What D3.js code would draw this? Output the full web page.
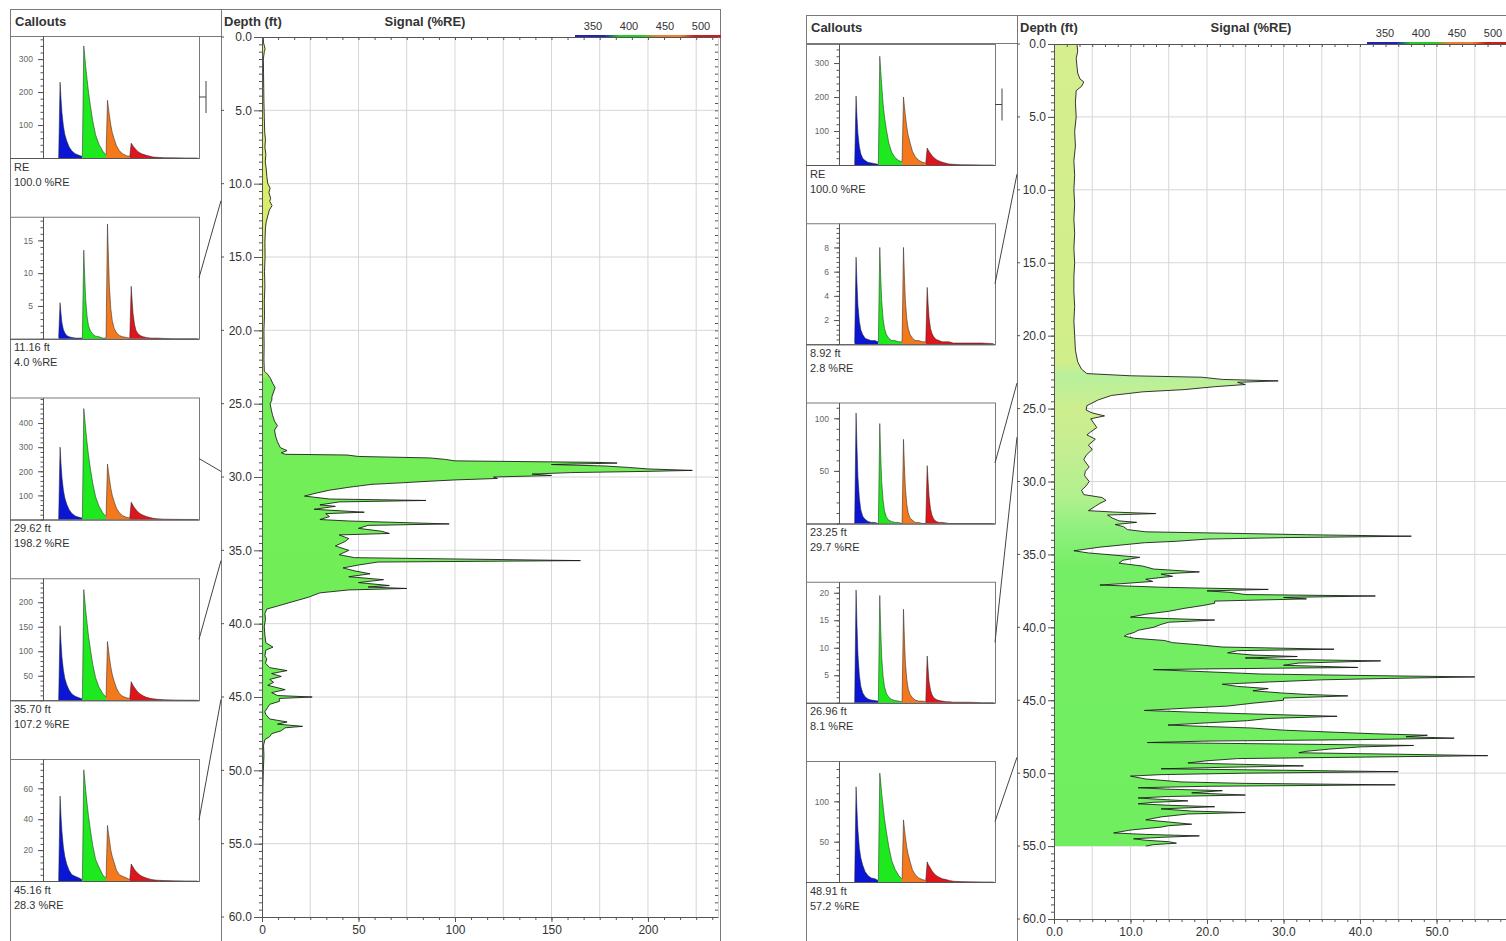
<!DOCTYPE html>
<html>
<head>
<meta charset="utf-8">
<script src="https://cdn.jsdelivr.net/npm/d3@7"></script>
<style>
  body { margin: 0; background: #fff; }
  svg { display: block; font-family: "Liberation Sans", Arial, sans-serif; }
</style>
</head>
<body>
<svg id="chart" width="1506" height="941"></svg>
<script>
// ---- data ----
const depthTickValues = [0, 5, 10, 15, 20, 25, 30, 35, 40, 45, 50, 55, 60];
const leftSignalTicks = [0, 50, 100, 150, 200];
const rightSignalTicks = [0, 10, 20, 30, 40, 50];
const bandLabels = ['350', '400', '450', '500'];

// depth (ft), signal (%RE)
const leftProfile = [
  [0.0, 0.6], [0.4, 0.8], [0.8, 1.6], [1.0, 1.2], [1.5, 0.7], [2.5, 0.8], [3.5, 0.9], [4.5, 1.0],
  [5.5, 1.2], [6.5, 1.4], [7.0, 1.8], [7.5, 1.5], [8.0, 2.0], [8.5, 1.7], [9.0, 2.2], [9.5, 2.5],
  [10.0, 3.0], [10.3, 4.2], [10.6, 3.6], [11.0, 4.5], [11.2, 4.0], [11.5, 5.2], [11.8, 3.8], [12.2, 3.0],
  [12.6, 2.2], [13.0, 1.8], [14.0, 1.5], [15.0, 1.6], [16.0, 1.3], [17.0, 1.5], [18.0, 1.2], [19.0, 1.3],
  [20.0, 1.0], [21.0, 1.1], [22.0, 1.0], [22.8, 1.2], [23.0, 3.0], [23.3, 4.5], [23.6, 5.5], [23.9, 6.8],
  [24.2, 6.0], [24.5, 5.2], [24.8, 5.0], [25.0, 4.2], [25.4, 4.8], [25.8, 5.5], [26.2, 6.5], [26.5, 8.0],
  [26.8, 6.5], [27.2, 7.0], [27.6, 8.0], [28.0, 9.5], [28.2, 13.0], [28.35, 10.0], [28.45, 12.0], [28.5, 44],
  [28.6, 50], [28.7, 87], [28.8, 95], [28.9, 100], [29.0, 173], [29.05, 184], [29.15, 150], [29.25, 178],
  [29.35, 190], [29.45, 200], [29.55, 223], [29.62, 198], [29.7, 160], [29.8, 140], [29.9, 150], [30.0, 120],
  [30.1, 122], [30.2, 100], [30.3, 85], [30.4, 72], [30.5, 57], [30.7, 45], [30.9, 35], [31.1, 28],
  [31.3, 22], [31.5, 35], [31.6, 85], [31.7, 40], [31.9, 30], [32.0, 38], [32.2, 27], [32.4, 53],
  [32.5, 33], [32.7, 35], [32.9, 30], [33.0, 45], [33.2, 97], [33.3, 55], [33.5, 50], [33.7, 62],
  [33.85, 66], [33.95, 40], [34.2, 45], [34.4, 43], [34.7, 38], [35.0, 45], [35.3, 40], [35.5, 48],
  [35.7, 165], [35.8, 60], [36.0, 50], [36.2, 42], [36.4, 48], [36.6, 56], [36.8, 45], [37.0, 63],
  [37.2, 50], [37.4, 66], [37.5, 55], [37.6, 75], [37.7, 45], [37.9, 30], [38.2, 24], [38.5, 16],
  [38.8, 8], [39.0, 2.5], [39.3, 1.5], [39.7, 1.8], [40.2, 1.2], [40.8, 1.5], [41.3, 2.0], [41.6, 5.7],
  [41.8, 2.0], [42.2, 1.5], [42.4, 2.5], [42.7, 1.8], [43.0, 4.0], [43.2, 13.0], [43.4, 5.0], [43.6, 10.0],
  [43.8, 4.0], [44.0, 6.0], [44.2, 3.0], [44.5, 12.0], [44.7, 5.0], [44.9, 8.0], [45.0, 26.0], [45.1, 9.0],
  [45.3, 9.0], [45.5, 4.0], [45.7, 3.0], [46.0, 1.5], [46.2, 2.0], [46.5, 4.0], [46.7, 13.0], [46.85, 8.0],
  [47.0, 21.0], [47.1, 12.0], [47.3, 10.0], [47.5, 5.0], [47.7, 4.0], [47.9, 1.5], [48.3, 0.8], [49.0, 1.0],
  [50.0, 0.7], [51.0, 0.5], [52.0, 0.4], [53.0, 0.4], [54.0, 0.3], [55.0, 0.3], [55.5, 0.2]
];

const rightProfile = [
  [0.0, 3.0], [0.5, 3.1], [1.0, 2.9], [1.5, 3.0], [2.0, 3.1], [2.4, 3.4], [2.6, 3.9], [2.9, 3.6],
  [3.2, 2.9], [4.0, 2.8], [5.0, 2.9], [6.0, 2.7], [7.0, 2.8], [8.0, 2.6], [9.0, 2.7], [10.0, 2.6],
  [11.0, 2.7], [12.0, 2.6], [13.0, 2.7], [14.0, 2.6], [15.0, 2.7], [16.0, 2.6], [17.0, 2.6], [18.0, 2.7],
  [19.0, 2.6], [20.0, 2.7], [21.0, 2.8], [21.8, 3.1], [22.3, 3.6], [22.6, 4.3], [22.75, 10.0], [22.85, 19.3],
  [23.0, 22], [23.1, 29.3], [23.2, 24], [23.35, 25], [23.5, 21], [23.7, 17], [23.85, 11.6], [24.1, 7.5],
  [24.4, 5.8], [24.8, 4.3], [25.1, 4.2], [25.3, 5.0], [25.5, 6.6], [25.7, 4.8], [26.0, 5.2], [26.3, 5.6],
  [26.6, 4.8], [26.8, 4.3], [27.1, 5.4], [27.5, 4.5], [27.8, 5.0], [28.2, 4.2], [28.5, 3.9], [28.8, 4.3],
  [29.0, 4.6], [29.3, 4.1], [29.6, 4.0], [30.0, 4.6], [30.3, 4.2], [30.6, 3.6], [30.9, 3.9], [31.1, 6.3],
  [31.3, 6.8], [31.5, 6.0], [31.7, 5.4], [32.0, 4.5], [32.1, 8.0], [32.2, 13.3], [32.3, 7.0], [32.5, 7.6],
  [32.7, 8.5], [32.8, 10.8], [32.95, 8.0], [33.1, 9.1], [33.3, 9.6], [33.45, 12.0], [33.55, 23.0], [33.65, 33.0],
  [33.75, 46.7], [33.85, 30.0], [33.95, 20.0], [34.1, 16.0], [34.2, 11.8], [34.5, 6.0], [34.75, 2.6], [34.9, 4.5],
  [35.0, 6.8], [35.2, 11.2], [35.4, 9.0], [35.6, 8.5], [35.8, 11.6], [36.0, 13.0], [36.2, 19.0], [36.35, 14.0],
  [36.5, 15.5], [36.7, 12.0], [36.85, 12.9], [37.0, 9.0], [37.1, 6.0], [37.25, 14.0], [37.4, 28.0], [37.5, 20.0],
  [37.6, 23.0], [37.75, 25.0], [37.85, 42.0], [37.95, 30.0], [38.05, 33.0], [38.2, 21.0], [38.35, 21.0], [38.5, 19.5],
  [38.7, 17.0], [38.9, 15.0], [39.1, 12.0], [39.3, 10.0], [39.4, 15.0], [39.5, 21.0], [39.65, 15.0], [39.8, 14.0],
  [40.0, 13.0], [40.2, 11.0], [40.35, 10.5], [40.5, 9.5], [40.6, 9.2], [40.75, 10.5], [40.9, 14.4], [41.05, 15.5],
  [41.2, 19.0], [41.35, 22.0], [41.5, 36.6], [41.6, 24.0], [41.75, 22.7], [41.9, 26.0], [42.0, 31.8], [42.1, 25.0],
  [42.2, 30.0], [42.3, 42.7], [42.45, 32.0], [42.6, 30.0], [42.75, 39.7], [42.85, 20.0], [42.9, 13.0], [43.05, 20.0],
  [43.2, 27.0], [43.3, 40.0], [43.4, 55.0], [43.5, 44.0], [43.6, 35.0], [43.75, 28.0], [43.9, 22.0], [44.05, 24.0],
  [44.2, 28.0], [44.35, 26.0], [44.5, 29.7], [44.6, 33.0], [44.7, 38.4], [44.85, 30.0], [45.0, 30.0], [45.2, 26.0],
  [45.4, 22.7], [45.55, 17.0], [45.7, 11.8], [45.85, 20.0], [46.0, 30.0], [46.1, 37.0], [46.25, 28.0], [46.4, 25.3],
  [46.55, 20.0], [46.7, 14.9], [46.8, 20.0], [46.9, 25.7], [47.05, 30.0], [47.2, 37.0], [47.3, 42.0], [47.4, 48.8],
  [47.5, 46.0], [47.6, 52.3], [47.7, 40.0], [47.8, 20.0], [47.9, 12.2], [48.0, 30.0], [48.1, 47.0], [48.2, 40.0],
  [48.35, 36.0], [48.5, 33.0], [48.6, 32.0], [48.7, 45.0], [48.8, 56.7], [48.9, 40.0], [49.0, 24.0], [49.15, 20.0],
  [49.3, 17.5], [49.4, 25.0], [49.5, 32.6], [49.6, 22.0], [49.7, 14.0], [49.8, 30.0], [49.9, 45.0], [50.0, 25.0],
  [50.1, 14.0], [50.2, 10.0], [50.4, 12.0], [50.6, 16.6], [50.7, 25.0], [50.8, 44.6], [50.9, 20.0], [51.0, 11.0],
  [51.1, 15.0], [51.2, 22.0], [51.35, 18.0], [51.5, 25.0], [51.6, 15.0], [51.7, 11.0], [51.8, 14.0], [51.9, 17.5],
  [52.0, 13.0], [52.1, 11.0], [52.2, 15.0], [52.3, 21.0], [52.45, 14.0], [52.6, 18.0], [52.7, 25.0], [52.8, 17.5],
  [53.0, 14.0], [53.2, 12.0], [53.35, 15.0], [53.5, 18.0], [53.6, 15.0], [53.7, 14.0], [53.9, 10.0], [54.1, 7.8],
  [54.2, 12.0], [54.3, 19.0], [54.4, 14.0], [54.5, 10.4], [54.6, 12.0], [54.7, 15.0], [54.8, 16.0], [54.9, 13.0],
  [55.0, 12.0]
];

// callout spectra: wavelengths (nm) shared by all spectra
const SPEC_WL = [
  347, 350, 352, 354, 357, 360, 364, 369, 375, 382, 390, 396,
  397, 400, 402, 404, 407, 410, 414, 419, 425, 432, 440, 446,
  447, 450, 452, 454, 457, 460, 464, 469, 475, 482, 490, 496,
  497, 500, 502, 504, 507, 510, 514, 519, 525, 532, 540, 546, 555, 570, 590, 615, 640
];
const bandEdges = [397, 447, 497];

const leftCalloutDepth = [null, 11.16, 29.62, 35.70, 45.16];
const leftCalloutLabel = ['RE', '11.16 ft', '29.62 ft', '35.70 ft', '45.16 ft'];
const leftCalloutSignal = ['100.0 %RE', '4.0 %RE', '198.2 %RE', '107.2 %RE', '28.3 %RE'];
const leftSpecMax = [370, 18.6, 506, 249, 79];
const leftSpecTicks = [[100, 200, 300], [5, 10, 15], [100, 200, 300, 400], [50, 100, 150, 200], [20, 40, 60]];
const leftSpectra = [
  [0, 230, 180, 138, 98, 72, 52, 34, 21, 13, 8, 5,
   5, 340, 310, 278, 238, 200, 158, 112, 70, 42, 21, 10,
   10, 175, 152, 130, 100, 78, 58, 37, 22, 13, 7, 5,
   5, 45, 41, 36, 31, 26, 20, 15, 11, 8, 5, 3, 2, 1, 0.5, 0.2, 0],
  [0.2, 5.5, 3.8, 2.4, 1.4, 0.9, 0.5, 0.3, 0.2, 0.1, 0.1, 0.1,
   0.1, 13.5, 9.5, 6.0, 3.4, 2.0, 1.2, 0.7, 0.4, 0.3, 0.1, 0.1,
   0.1, 17.5, 12.5, 8.0, 4.6, 2.8, 1.6, 0.9, 0.5, 0.3, 0.2, 0.1,
   0.1, 8.0, 5.8, 3.8, 2.2, 1.3, 0.8, 0.5, 0.3, 0.2, 0.1, 0.1, 0.1, 0.05, 0, 0, 0],
  [0, 300, 232, 175, 122, 90, 64, 41, 25, 15, 9, 6,
   6, 460, 420, 375, 318, 266, 210, 150, 94, 56, 28, 14,
   14, 230, 200, 170, 130, 101, 75, 47, 28, 16, 9, 7,
   7, 72, 65, 58, 49, 41, 32, 24, 18, 12, 8, 5, 3, 1.5, 0.7, 0.3, 0],
  [0, 152, 118, 88, 62, 45, 32, 21, 13, 8, 5, 3,
   3, 226, 206, 184, 157, 131, 104, 73, 46, 27, 14, 7,
   7, 120, 104, 88, 68, 53, 39, 25, 14, 8, 5, 4,
   4, 38, 34, 30, 26, 22, 17, 13, 9, 6, 4, 3, 2, 1, 0.5, 0.2, 0],
  [0, 55, 42, 32, 22, 16, 11, 7, 4, 3, 2, 1,
   1, 72, 66, 59, 50, 42, 33, 23, 14, 9, 4, 2,
   2, 36, 31, 27, 20, 16, 12, 7, 4, 3, 2, 1,
   1, 11, 10, 9, 7.5, 6.3, 5, 3.7, 2.7, 1.9, 1.2, 0.8, 0.5, 0.3, 0.1, 0.05, 0]
];

const rightCalloutDepth = [null, 8.92, 23.25, 26.96, 48.91];
const rightCalloutLabel = ['RE', '8.92 ft', '23.25 ft', '26.96 ft', '48.91 ft'];
const rightCalloutSignal = ['100.0 %RE', '2.8 %RE', '29.7 %RE', '8.1 %RE', '57.2 %RE'];
const rightSpecMax = [356, 10, 115, 22, 150];
const rightSpecTicks = [[100, 200, 300], [2, 4, 6, 8], [50, 100], [5, 10, 15, 20], [50, 100]];
const rightSpectra = [
  [0, 203, 140, 92, 54, 33, 20, 13, 8, 6, 4, 2,
   2, 320, 278, 236, 180, 141, 104, 65, 38, 22, 13, 10,
   10, 200, 172, 146, 112, 87, 65, 40, 24, 14, 8, 6,
   6, 50, 45, 40, 34, 28, 22, 16, 12, 8, 5, 3, 2, 1, 0.5, 0.2, 0],
  [0.1, 7.2, 5.0, 3.2, 1.9, 1.2, 0.8, 0.5, 0.4, 0.3, 0.3, 0.2,
   0.2, 8.0, 5.6, 3.6, 2.1, 1.3, 0.8, 0.5, 0.3, 0.3, 0.2, 0.2,
   0.2, 8.0, 5.6, 3.6, 2.1, 1.3, 0.8, 0.5, 0.3, 0.3, 0.2, 0.2,
   0.2, 4.7, 3.3, 2.2, 1.3, 0.9, 0.6, 0.4, 0.3, 0.2, 0.2, 0.2, 0.1, 0.1, 0.1, 0.1, 0.05],
  [0, 105, 72, 44, 24, 13, 7, 4, 2, 1, 1, 0,
   0, 95, 65, 40, 22, 12, 6, 3, 2, 1, 1, 0,
   0, 80, 55, 34, 18, 10, 5, 3, 1, 1, 0, 0,
   0, 55, 40, 26, 14, 8, 4, 2, 1, 1, 0.5, 0, 0, 0, 0, 0, 0],
  [0, 20.5, 14, 8.8, 5.0, 3.0, 1.8, 1.1, 0.7, 0.5, 0.4, 0.3,
   0.3, 19.5, 13.4, 8.4, 4.8, 2.9, 1.7, 1.0, 0.6, 0.4, 0.3, 0.2,
   0.2, 17, 11.7, 7.3, 4.2, 2.5, 1.5, 0.9, 0.5, 0.3, 0.3, 0.2,
   0.2, 8.5, 6.0, 3.8, 2.3, 1.5, 0.9, 0.6, 0.4, 0.3, 0.2, 0.2, 0.1, 0.1, 0.1, 0, 0],
  [0, 118, 88, 64, 42, 30, 21, 13, 8, 5, 4, 2,
   2, 135, 124, 110, 94, 78, 62, 44, 27, 16, 8, 4,
   4, 77, 66, 56, 43, 34, 25, 15, 9, 5, 3, 2,
   2, 25, 22, 20, 17, 14, 11, 8, 6, 4, 3, 2, 1, 0.5, 0.2, 0.1, 0]
];

// ---- styles / layout ----
const FONT = '"Liberation Sans", Arial, sans-serif';
const SPEC_COLORS = ['#0a16d4', '#1ee81e', '#f4781c', '#de161c'];
const SPEC_DOMAIN = [314, 643];
const GRID = '#d6d6d6';
const FRAME = '#7a7a7a';

const panels = [
  {
    id: 'L', left: 10, top: 9, right: 720, colX: 221, headerY: 36,
    plotX0: 262, plotX1: 718, plotY0: 37, plotY1: 917, xMax: 236.3,
    xTicks: leftSignalTicks, xMajor: 50, xGrid: 25, xFmt: d3.format('d'), yTick: 8,
    titleY: 26, signalX: 425, barX: 575, barY: 35, barLabelY: 30,
    boxTop: 36, boxPitch: 180.75, boxH: 122, boxX1: 199, boxAxis: 43,
    profile: leftProfile, cDepth: leftCalloutDepth, cLabel: leftCalloutLabel,
    cSignal: leftCalloutSignal, sMax: leftSpecMax, sTicks: leftSpecTicks, spectra: leftSpectra,
    fillStops: [[0, '#dcec6a'], [22.6, '#d8ec6c'], [23.4, '#74ee58'], [60, '#6cee56']]
  },
  {
    id: 'R', left: 806, top: 15, right: 1530, colX: 1017, headerY: 43,
    plotX0: 1054, plotX1: 1510, plotY0: 44, plotY1: 919, xMax: 59.6,
    xTicks: rightSignalTicks, xMajor: 10, xGrid: 5, xFmt: d3.format('.1f'), yTick: 6,
    titleY: 32, signalX: 1251, barX: 1367, barY: 42, barLabelY: 36.5,
    boxTop: 44, boxPitch: 179.25, boxH: 121, boxX1: 995, boxAxis: 839,
    profile: rightProfile, cDepth: rightCalloutDepth, cLabel: rightCalloutLabel,
    cSignal: rightCalloutSignal, sMax: rightSpecMax, sTicks: rightSpecTicks, spectra: rightSpectra,
    fillStops: [[0, '#d6ee8e'], [21.8, '#d0ee8a'], [22.8, '#b8f09c'], [25, '#cdee8e'], [28, '#c4ee92'],
                [31, '#b2f08e'], [33.5, '#8cf07c'], [36, '#74ee64'], [60, '#70ee5e']]
  }
];

const svg = d3.select('#chart');
const defs = svg.append('defs');

// colour bar gradient (shared)
const barGrad = defs.append('linearGradient').attr('id', 'bandbar');
[[0, '#2222b4'], [0.2, '#2222b4'], [0.3, '#22cc22'], [0.46, '#22cc22'],
 [0.56, '#ea8030'], [0.72, '#ea8030'], [0.82, '#cc1c1c'], [1, '#cc1c1c']]
  .forEach(s => barGrad.append('stop').attr('offset', s[0]).attr('stop-color', s[1]));

function styleAxis(a, size, color) {
  a.attr('font-family', FONT).attr('font-size', size);
  a.select('.domain').attr('stroke', '#555');
  a.selectAll('line').attr('stroke', '#555');
  a.selectAll('text').attr('fill', color);
}

function drawPanel(cfg) {
  const g = svg.append('g');
  const y = d3.scaleLinear().domain([0, 60]).range([cfg.plotY0, cfg.plotY1]);
  const x = d3.scaleLinear().domain([0, cfg.xMax]).range([cfg.plotX0, cfg.plotX1]);

  // frame, column divider, callout header line
  g.append('rect').attr('x', cfg.left + 0.5).attr('y', cfg.top + 0.5)
    .attr('width', cfg.right - cfg.left).attr('height', 960)
    .attr('fill', 'none').attr('stroke', FRAME);
  g.append('line').attr('x1', cfg.colX + 0.5).attr('x2', cfg.colX + 0.5)
    .attr('y1', cfg.top).attr('y2', 941).attr('stroke', FRAME);
  g.append('line').attr('x1', cfg.left).attr('x2', cfg.colX)
    .attr('y1', cfg.headerY + 0.5).attr('y2', cfg.headerY + 0.5).attr('stroke', FRAME);

  // header text
  g.append('text').attr('x', cfg.left + 5).attr('y', cfg.titleY).text('Callouts')
    .attr('font-size', 13).attr('font-weight', 'bold').attr('fill', '#333');
  g.append('text').attr('x', cfg.colX + 3).attr('y', cfg.titleY).text('Depth (ft)')
    .attr('font-size', 13).attr('font-weight', 'bold').attr('fill', '#333');
  g.append('text').attr('x', cfg.signalX).attr('y', cfg.titleY).text('Signal (%RE)')
    .attr('text-anchor', 'middle').attr('font-size', 13).attr('font-weight', 'bold').attr('fill', '#333');

  // wavelength colour bar
  g.append('rect').attr('x', cfg.barX).attr('y', cfg.barY).attr('width', 36 * bandLabels.length + 2)
    .attr('height', 3).attr('fill', 'url(#bandbar)');
  g.selectAll('.bandlabel').data(bandLabels).enter().append('text')
    .attr('x', (d, i) => cfg.barX + 18 + i * 36).attr('y', cfg.barLabelY)
    .attr('text-anchor', 'middle').attr('font-size', 11).attr('fill', '#333').text(d => d);

  // grid
  g.append('g').selectAll('line').data(d3.range(cfg.xGrid, cfg.xMax, cfg.xGrid)).enter().append('line')
    .attr('x1', d => x(d)).attr('x2', d => x(d)).attr('y1', cfg.plotY0).attr('y2', cfg.plotY1)
    .attr('stroke', GRID);
  g.append('g').selectAll('line').data(depthTickValues.slice(1, -1)).enter().append('line')
    .attr('x1', cfg.plotX0).attr('x2', cfg.plotX1).attr('y1', d => y(d)).attr('y2', d => y(d))
    .attr('stroke', GRID);

  // profile fill (colour follows depth)
  const grad = defs.append('linearGradient').attr('id', 'fill' + cfg.id)
    .attr('gradientUnits', 'userSpaceOnUse')
    .attr('x1', 0).attr('x2', 0).attr('y1', y(0)).attr('y2', y(60));
  cfg.fillStops.forEach(s => grad.append('stop').attr('offset', s[0] / 60).attr('stop-color', s[1]));

  const area = d3.area().y(d => y(d[0])).x0(x(0)).x1(d => x(d[1]));
  const line = d3.line().y(d => y(d[0])).x(d => x(d[1]));
  g.append('path').datum(cfg.profile).attr('d', area).attr('fill', `url(#fill${cfg.id})`);
  g.append('path').datum(cfg.profile).attr('d', line)
    .attr('fill', 'none').attr('stroke', '#141414').attr('stroke-width', 0.85);

  // depth axis
  g.append('g').attr('transform', `translate(${cfg.plotX0},0)`)
    .call(d3.axisLeft(y).tickValues(depthTickValues).tickFormat(d3.format('.1f'))
      .tickSize(cfg.yTick).tickSizeOuter(0).tickPadding(2))
    .call(a => styleAxis(a, 12, '#333'));
  g.append('g').attr('transform', `translate(${cfg.plotX0},0)`)
    .call(d3.axisLeft(y).tickValues(d3.range(0, 60.01, 0.5)).tickFormat('').tickSize(3).tickSizeOuter(0))
    .call(a => styleAxis(a, 12, '#333'));
  // small marks on the column divider
  g.append('g').selectAll('line').data(depthTickValues).enter().append('line')
    .attr('x1', cfg.colX).attr('x2', cfg.colX + 3).attr('y1', d => y(d)).attr('y2', d => y(d))
    .attr('stroke', '#555');

  // signal axis (bottom) and frame ticks
  g.append('g').attr('transform', `translate(0,${cfg.plotY1})`)
    .call(d3.axisBottom(x).tickValues(cfg.xTicks).tickFormat(cfg.xFmt).tickSize(5).tickSizeOuter(0))
    .call(a => styleAxis(a, 12, '#333'));
  const minorX = d3.range(0, cfg.xMax, cfg.xMajor / 6);
  g.append('g').attr('transform', `translate(0,${cfg.plotY1})`)
    .call(d3.axisBottom(x).tickValues(minorX).tickFormat('').tickSize(3).tickSizeOuter(0))
    .call(a => styleAxis(a, 12, '#333'));
  g.append('g').attr('transform', `translate(0,${cfg.plotY0})`)
    .call(d3.axisBottom(x).tickValues(minorX).tickFormat('').tickSize(3).tickSizeOuter(0))
    .call(a => styleAxis(a, 12, '#333'));
  if (cfg.plotX1 < 1506) {
    g.append('g').attr('transform', `translate(${cfg.plotX1},0)`)
      .call(d3.axisLeft(y).tickValues(d3.range(0, 60.01, 0.5)).tickFormat('').tickSize(3).tickSizeOuter(0))
      .call(a => { styleAxis(a, 12, '#333'); a.select('.domain').attr('stroke', GRID); });
  }

  // callouts
  const sx = d3.scaleLinear().domain(SPEC_DOMAIN).range([cfg.boxAxis, cfg.boxX1]);
  const starts = [0, ...bandEdges.map(e => SPEC_WL.indexOf(e)), SPEC_WL.length];

  cfg.spectra.forEach((spec, i) => {
    const top = cfg.boxTop + i * cfg.boxPitch;
    const bottom = top + cfg.boxH;
    const mid = (top + bottom) / 2;
    const cg = g.append('g');
    const sy = d3.scaleLinear().domain([0, cfg.sMax[i]]).range([bottom, top]);
    const pts = SPEC_WL.map((w, k) => [w, spec[k]]);

    cg.append('rect').attr('x', cfg.left + 0.5).attr('y', top + 0.5)
      .attr('width', cfg.boxX1 - cfg.left).attr('height', cfg.boxH)
      .attr('fill', '#fff').attr('stroke', FRAME);

    const sArea = d3.area().x(p => sx(p[0])).y0(bottom).y1(p => sy(p[1]));
    SPEC_COLORS.forEach((c, b) => {
      const part = pts.slice(starts[b], Math.min(starts[b + 1] + 1, pts.length));
      cg.append('path').datum(part).attr('d', sArea).attr('fill', c);
    });
    cg.append('path').datum(pts)
      .attr('d', d3.line().x(p => sx(p[0])).y(p => sy(p[1])))
      .attr('fill', 'none').attr('stroke', '#222').attr('stroke-width', 0.7).attr('stroke-opacity', 0.75);

    const ticks = cfg.sTicks[i];
    cg.append('g').attr('transform', `translate(${cfg.boxAxis},0)`)
      .call(d3.axisLeft(sy).tickValues(ticks).tickSize(5).tickSizeOuter(0).tickPadding(5))
      .call(a => styleAxis(a, 8.5, '#666'));
    cg.append('g').attr('transform', `translate(${cfg.boxAxis},0)`)
      .call(d3.axisLeft(sy).tickValues(d3.range(0, cfg.sMax[i], (ticks[1] - ticks[0]) / 5))
        .tickFormat('').tickSize(2.5).tickSizeOuter(0))
      .call(a => styleAxis(a, 8.5, '#666'));
    cg.append('line').attr('x1', cfg.left).attr('x2', cfg.boxX1)
      .attr('y1', bottom + 0.5).attr('y2', bottom + 0.5).attr('stroke', '#555');

    cg.append('text').attr('x', cfg.left + 4).attr('y', bottom + 12.5)
      .attr('font-size', 11).attr('fill', '#333').text(cfg.cLabel[i]);
    cg.append('text').attr('x', cfg.left + 4).attr('y', bottom + 27.5)
      .attr('font-size', 11).attr('fill', '#333').text(cfg.cSignal[i]);

    // connector to the depth track
    const depth = cfg.cDepth[i];
    if (depth == null) {
      cg.append('path').attr('d', `M${cfg.boxX1},${mid}H${cfg.boxX1 + 7}M${cfg.boxX1 + 7},${mid - 16}V${mid + 16}`)
        .attr('fill', 'none').attr('stroke', '#444');
    } else {
      cg.append('line').attr('x1', cfg.boxX1).attr('y1', mid)
        .attr('x2', cfg.colX).attr('y2', y(depth)).attr('stroke', '#444');
    }
  });
}

panels.forEach(drawPanel);
</script>
</body>
</html>
